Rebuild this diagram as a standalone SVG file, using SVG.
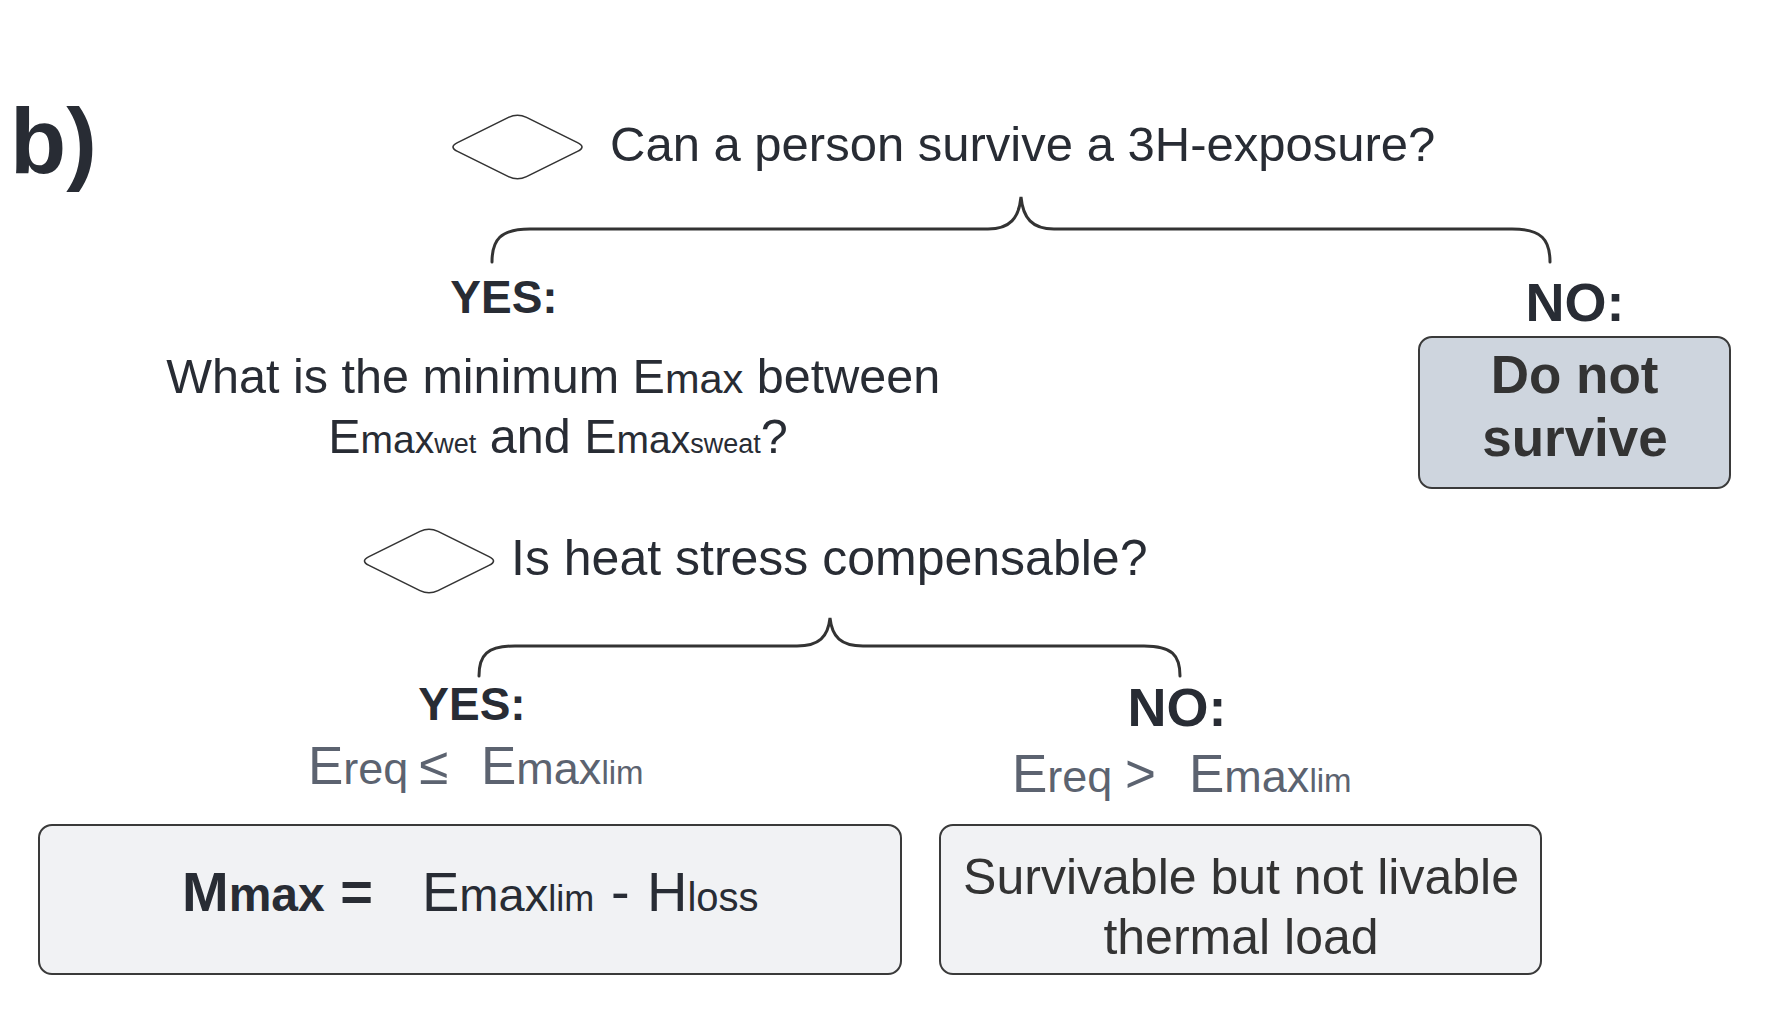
<svg xmlns="http://www.w3.org/2000/svg" width="1787" height="1025" viewBox="0 0 1787 1025">
<style>
  text { font-family: "Liberation Sans", Arial, sans-serif; }
  .dark { fill: #282c34; }
  .grey { fill: #5c6370; }
  .box-text { fill: #333333; }
  .bold { font-weight: bold; }
  .brace { fill: none; stroke: #333333; stroke-width: 3; stroke-linecap: round; }
  .diamond { fill: #ffffff; stroke: #333333; stroke-width: 1.6; }
  .box { fill: #f1f2f4; stroke: #3a3a3a; stroke-width: 2; }
  .box-dark { fill: #ced5de; stroke: #3a3a3a; stroke-width: 2; }
</style>
<defs>
  <path id="dia" d="M -60,-4.4 L -9,-29.6 Q 0,-34 9,-29.6 L 60,-4.4 Q 69,0 60,4.4 L 9,29.6 Q 0,34 -9,29.6 L -60,4.4 Q -69,0 -60,-4.4 Z"/>
</defs>
<rect x="0" y="0" width="1787" height="1025" fill="#ffffff"/>

<g id="label-b">
  <text x="10" y="173" class="dark bold" font-size="92">b)</text>
</g>

<g id="connectors">
  <path class="brace" d="M 492,262 C 492,240 500,229 530,229 L 988,229 C 1010,229 1019,218 1021,197 C 1023,218 1032,229 1054,229 L 1512,229 C 1542,229 1550,240 1550,262"/>
  <path class="brace" d="M 479,676 C 479,655 487,646 515,646 L 797,646 C 819,646 828,637 830,618 C 832,637 841,646 863,646 L 1144,646 C 1172,646 1180,655 1180,676"/>
</g>

<g id="decision-survive">
  <use href="#dia" class="diamond" transform="translate(517.5,147)"/>
  <text x="610" y="161" class="dark" font-size="49">Can a person survive a 3H-exposure?</text>
</g>

<g id="yes-1">
  <text x="504" y="313" text-anchor="middle" class="dark bold" font-size="46">YES:</text>
  <text text-anchor="middle" class="dark" font-size="48.5">
    <tspan x="560" y="393">What is the minimum E<tspan font-size="41.5">max</tspan> between</tspan>
    <tspan x="558" y="453">E<tspan font-size="39">max</tspan><tspan font-size="27">wet</tspan> and E<tspan font-size="39">max</tspan><tspan font-size="27">sweat</tspan>?</tspan>
  </text>
</g>

<g id="no-1">
  <text x="1575" y="321" text-anchor="middle" class="dark bold" font-size="54">NO:</text>
  <rect class="box-dark" x="1419" y="337" width="311" height="151" rx="13" ry="13"/>
  <text text-anchor="middle" class="box-text bold" font-size="53">
    <tspan x="1582" y="393">Do not</tspan>
    <tspan x="1575" y="456">survive</tspan>
  </text>
</g>

<g id="decision-compensable">
  <use href="#dia" class="diamond" transform="translate(429,561)"/>
  <text x="511" y="575" class="dark" font-size="50">Is heat stress compensable?</text>
</g>

<g id="yes-2">
  <text x="472" y="720" text-anchor="middle" class="dark bold" font-size="46">YES:</text>
  <text y="784" class="grey" font-size="53"><tspan x="308">E<tspan font-size="45">req</tspan></tspan><tspan x="419">≤</tspan><tspan x="481">E<tspan font-size="45">max</tspan><tspan font-size="33">lim</tspan></tspan></text>
  <rect class="box" x="39" y="825" width="862" height="149" rx="13" ry="13"/>
  <text y="911" class="dark" font-size="56"><tspan x="182" font-weight="bold">M<tspan font-size="48">max</tspan> =</tspan><tspan x="422">E<tspan font-size="47">max</tspan><tspan font-size="36">lim</tspan></tspan><tspan x="611">-</tspan><tspan x="647">H<tspan font-size="40">loss</tspan></tspan></text>
</g>

<g id="no-2">
  <text x="1177" y="726" text-anchor="middle" class="dark bold" font-size="54">NO:</text>
  <text y="792" class="grey" font-size="53"><tspan x="1012">E<tspan font-size="45">req</tspan></tspan><tspan x="1125">&gt;</tspan><tspan x="1189">E<tspan font-size="45">max</tspan><tspan font-size="33">lim</tspan></tspan></text>
  <rect class="box" x="940" y="825" width="601" height="149" rx="13" ry="13"/>
  <text text-anchor="middle" class="box-text" font-size="50">
    <tspan x="1248" y="894">Survivable but not livable</tspan>
    <tspan x="1241" y="954">thermal load</tspan>
  </text>
</g>
</svg>
